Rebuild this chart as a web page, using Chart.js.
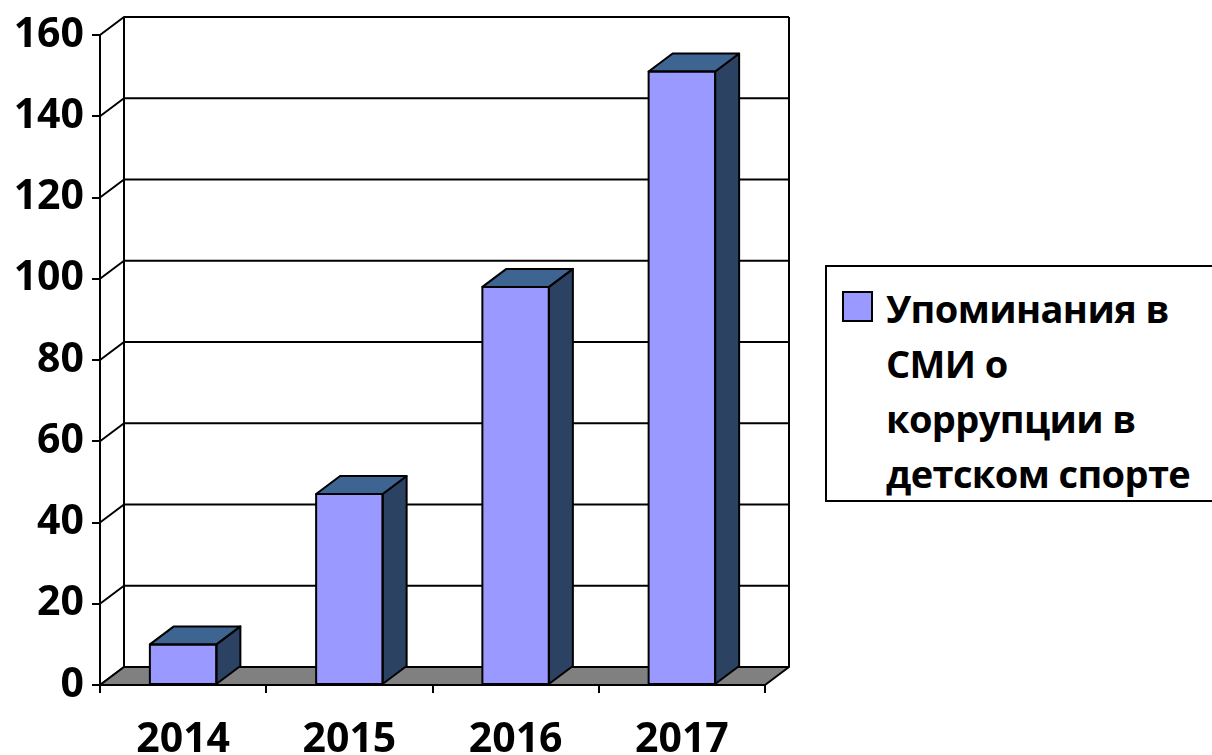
<!DOCTYPE html>
<html>
<head>
<meta charset="utf-8">
<script src="https://cdn.jsdelivr.net/npm/chart.js"></script>
<style>
	body { margin: 0; width: 1212px; height: 755px; overflow: hidden; background: #fff; position: relative; font-family: "Open Sans", sans-serif; }
	#cvs { position: absolute; left: 0; top: 0; }
	#legend {
		position: absolute; left: 825px; top: 265px; width: 420px; height: 237px;
		border: 2px solid #000; box-sizing: border-box; background: #fff;
	}
	#legend .box {
		position: absolute; left: 15px; top: 24px; width: 31px; height: 31px;
		background: #9999FF; border: 2px solid #000; box-sizing: border-box;
	}
	#legend .txt {
		position: absolute; left: 59px; top: 14px;
		font-weight: bold; font-size: 38px; line-height: 55px; letter-spacing: -0.6px; color: #000; white-space: nowrap;
	}
</style>
</head>
<body>
<canvas id="cvs" width="1212" height="755"></canvas>
<div id="legend"><div class="box"></div><div class="txt"></div></div>
<script>
var years = ["2014", "2015", "2016", "2017"];
var mentions = [10, 47, 98, 151];
var seriesLines = ["Упоминания в", "СМИ о", "коррупции в", "детском спорте"];
var yTicks = [0, 20, 40, 60, 80, 100, 120, 140, 160];

var DX = 24, DY = -18;

function poly(ctx, pts, fill) {
	ctx.beginPath();
	ctx.moveTo(pts[0][0], pts[0][1]);
	for (var i = 1; i < pts.length; i++) ctx.lineTo(pts[i][0], pts[i][1]);
	ctx.closePath();
	if (fill) { ctx.fillStyle = fill; ctx.fill(); }
	ctx.stroke();
}

var threeD = {
	id: "threeD",
	beforeDatasetsDraw: function(chart) {
		var ctx = chart.ctx, a = chart.chartArea, ys = chart.scales.y;
		ctx.save();
		ctx.strokeStyle = "#000";
		ctx.lineWidth = 2;
		ctx.lineJoin = "round";
		// back wall gridlines + left wall diagonals
		yTicks.forEach(function(v) {
			var py = ys.getPixelForValue(v);
			ctx.beginPath();
			ctx.moveTo(a.left, py);
			ctx.lineTo(a.left + DX, py + DY);
			ctx.lineTo(a.right + DX, py + DY);
			ctx.stroke();
		});
		ctx.beginPath();
		ctx.moveTo(a.left + DX, a.top + DY);
		ctx.lineTo(a.left + DX, a.bottom + DY);
		ctx.moveTo(a.right + DX, a.top + DY);
		ctx.lineTo(a.right + DX, a.bottom + DY);
		ctx.stroke();
		// floor
		poly(ctx, [[a.left, a.bottom], [a.right, a.bottom], [a.right + DX, a.bottom + DY], [a.left + DX, a.bottom + DY]], "#808080");
		ctx.restore();
	},
	afterDatasetsDraw: function(chart) {
		var ctx = chart.ctx;
		var meta = chart.getDatasetMeta(0);
		ctx.save();
		ctx.strokeStyle = "#000";
		ctx.lineWidth = 2;
		ctx.lineJoin = "round";
		meta.data.forEach(function(bar) {
			var l = bar.x - bar.width / 2, r = bar.x + bar.width / 2, t = bar.y, b = bar.base;
			poly(ctx, [[r, t], [r + DX, t + DY], [r + DX, b + DY], [r, b]], "#2B4263");
			poly(ctx, [[l, t], [r, t], [r + DX, t + DY], [l + DX, t + DY]], "#3E6592");
			ctx.strokeRect(l, t, r - l, b - t);
		});
		ctx.restore();
	}
};

new Chart(document.getElementById("cvs"), {
	type: "bar",
	data: {
		labels: years,
		datasets: [
			{
				label: seriesLines.join(" "),
				backgroundColor: "#9999FF",
				borderColor: "#000",
				borderWidth: 0,
				categoryPercentage: 1,
				barPercentage: 0.4,
				data: mentions
			}
		]
	},
	options: {
		responsive: false,
		animation: false,
		devicePixelRatio: 1,
		layout: { padding: { top: 35, right: 447, bottom: 0, left: 0 } },
		plugins: {
			legend: { display: false },
			title: { display: false },
			tooltip: { enabled: false }
		},
		scales: {
			x: {
				grid: { drawOnChartArea: false, drawTicks: true, tickLength: 8, color: "#000", lineWidth: 2, offset: true },
				border: { display: true, color: "#000", width: 2 },
				ticks: { color: "#000", font: { family: "Open Sans", size: 41, weight: "bold" }, padding: 23, maxRotation: 0 },
				afterFit: function(scale) { scale.height = 70; }
			},
			y: {
				min: 0,
				max: 160,
				grid: { drawOnChartArea: false, drawTicks: true, tickLength: 8, color: "#000", lineWidth: 2 },
				border: { display: true, color: "#000", width: 2 },
				ticks: { stepSize: 20, color: "#000", font: { family: "Open Sans", size: 41, weight: "bold" }, padding: 8 },
				afterFit: function(scale) { scale.width = 100; }
			}
		}
	},
	plugins: [threeD]
});

document.querySelector("#legend .txt").innerHTML = seriesLines.join("<br>");
</script>
</body>
</html>
